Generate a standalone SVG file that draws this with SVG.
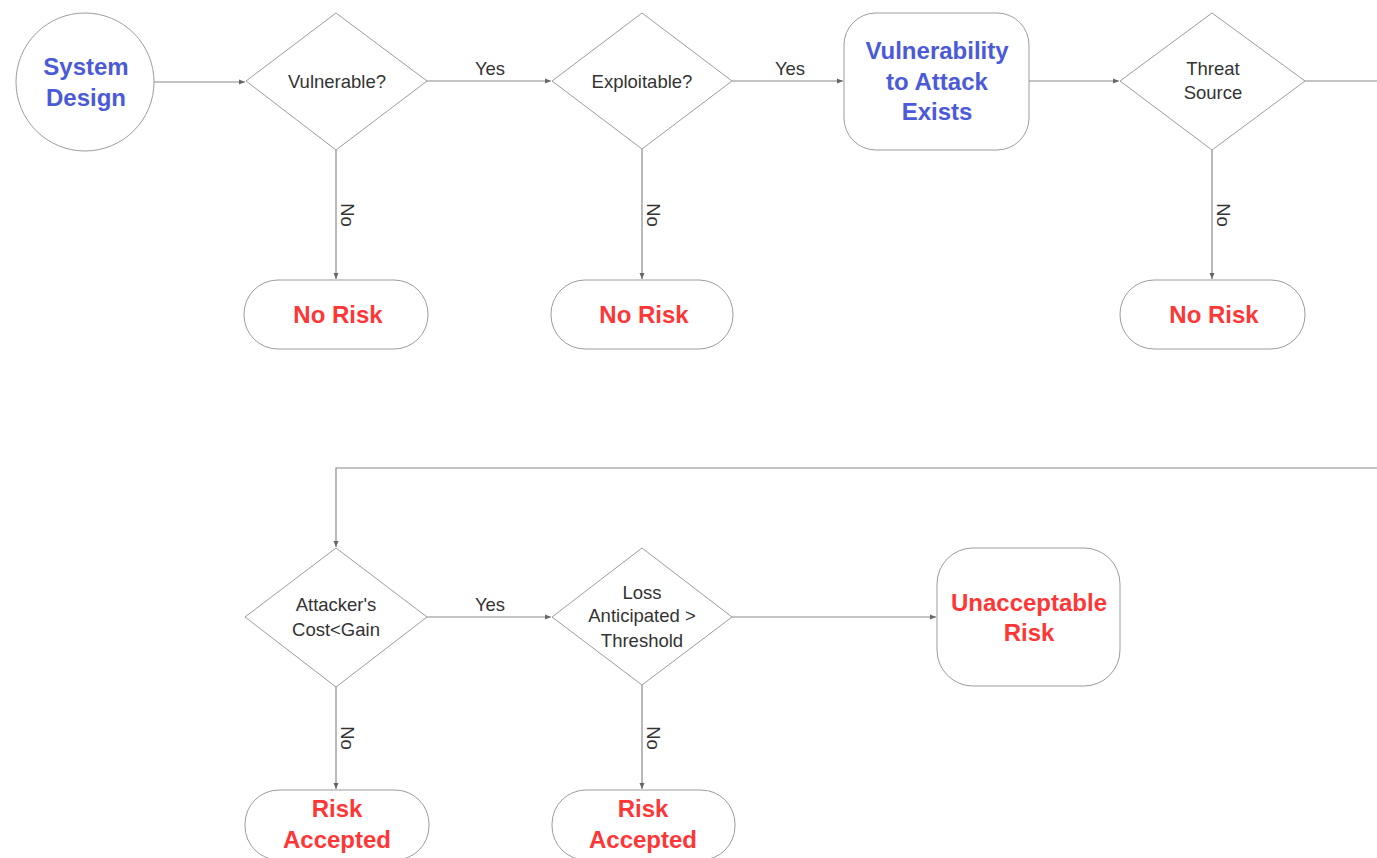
<svg xmlns="http://www.w3.org/2000/svg" width="1377" height="858" viewBox="0 0 1377 858">
<style>
.shape{fill:#fff;stroke:#9c9c9c;stroke-width:1}
.line{fill:none;stroke:#8a8a8a;stroke-width:1.2}
.title{font-family:"Liberation Sans",Arial,sans-serif;font-weight:bold;font-size:24px;text-anchor:middle}
.blue{fill:#4a5ad8}
.red{fill:#ff3636}
.small{font-family:"Liberation Sans",Arial,sans-serif;font-size:18.5px;fill:#333;text-anchor:middle}
</style>
<defs>
<marker id="arr" markerWidth="7" markerHeight="6" refX="6" refY="3" orient="auto" markerUnits="userSpaceOnUse">
<path d="M0,0.5 L6,3 L0,5.5 Z" fill="#666"/>
</marker>
</defs>
<rect width="1377" height="858" fill="#fff"/>
<g id="connectors">
<path class="line" d="M154,82 H245" marker-end="url(#arr)"/>
<path class="line" d="M427,81 H551" marker-end="url(#arr)"/>
<path class="line" d="M732,81 H843" marker-end="url(#arr)"/>
<path class="line" d="M1029,81 H1119" marker-end="url(#arr)"/>
<path class="line" d="M1305,81 H1377"/>
<path class="line" d="M336,150 V279" marker-end="url(#arr)"/>
<path class="line" d="M642,149 V279" marker-end="url(#arr)"/>
<path class="line" d="M1212,150 V279" marker-end="url(#arr)"/>
<path class="line" d="M1377,468 H336 V547" marker-end="url(#arr)"/>
<path class="line" d="M427,617 H551" marker-end="url(#arr)"/>
<path class="line" d="M732,617 H936" marker-end="url(#arr)"/>
<path class="line" d="M336,687 V789" marker-end="url(#arr)"/>
<path class="line" d="M642,685 V789" marker-end="url(#arr)"/>
<text class="small" x="490" y="75">Yes</text>
<text class="small" x="790" y="75">Yes</text>
<text class="small" x="490" y="611">Yes</text>
<text class="small" transform="translate(341,215) rotate(90)">No</text>
<text class="small" transform="translate(647,215) rotate(90)">No</text>
<text class="small" transform="translate(1217,215) rotate(90)">No</text>
<text class="small" transform="translate(341,738) rotate(90)">No</text>
<text class="small" transform="translate(647,738) rotate(90)">No</text>
</g>
<g id="system-design">
<circle class="shape" cx="85" cy="82" r="69"/>
<text class="title blue" x="86" y="75">System</text>
<text class="title blue" x="86" y="106">Design</text>
</g>
<g id="vulnerable">
<polygon class="shape" points="336,13 427,81 336,150 246,81"/>
<text class="small" x="337" y="88">Vulnerable?</text>
</g>
<g id="exploitable">
<polygon class="shape" points="642,13 732,81 642,149 552,81"/>
<text class="small" x="642" y="88">Exploitable?</text>
</g>
<g id="vulnerability-exists">
<rect class="shape" x="844" y="13" width="185" height="137" rx="32"/>
<text class="title blue" x="937" y="59">Vulnerability</text>
<text class="title blue" x="937" y="90">to Attack</text>
<text class="title blue" x="937" y="120">Exists</text>
</g>
<g id="threat-source">
<polygon class="shape" points="1212,13 1305,81 1212,150 1120,81"/>
<text class="small" x="1213" y="75">Threat</text>
<text class="small" x="1213" y="99">Source</text>
</g>
<g id="no-risk-1">
<rect class="shape" x="244" y="280" width="184" height="69" rx="34"/>
<text class="title red" x="338" y="323">No Risk</text>
</g>
<g id="no-risk-2">
<rect class="shape" x="551" y="280" width="182" height="69" rx="34"/>
<text class="title red" x="644" y="323">No Risk</text>
</g>
<g id="no-risk-3">
<rect class="shape" x="1120" y="280" width="185" height="69" rx="34"/>
<text class="title red" x="1214" y="323">No Risk</text>
</g>
<g id="cost-gain">
<polygon class="shape" points="336,548 427,617 336,687 245,617"/>
<text class="small" x="336" y="611">Attacker's</text>
<text class="small" x="336" y="636">Cost&lt;Gain</text>
</g>
<g id="loss-threshold">
<polygon class="shape" points="642,548 732,617 642,685 552,617"/>
<text class="small" x="642" y="599">Loss</text>
<text class="small" x="642" y="622">Anticipated &gt;</text>
<text class="small" x="642" y="647">Threshold</text>
</g>
<g id="unacceptable-risk">
<rect class="shape" x="937" y="548" width="183" height="138" rx="36"/>
<text class="title red" x="1029" y="611">Unacceptable</text>
<text class="title red" x="1029" y="641">Risk</text>
</g>
<g id="risk-accepted-1">
<rect class="shape" x="245" y="790" width="184" height="70" rx="34"/>
<text class="title red" x="337" y="817">Risk</text>
<text class="title red" x="337" y="848">Accepted</text>
</g>
<g id="risk-accepted-2">
<rect class="shape" x="552" y="790" width="183" height="70" rx="34"/>
<text class="title red" x="643" y="817">Risk</text>
<text class="title red" x="643" y="848">Accepted</text>
</g>
</svg>
